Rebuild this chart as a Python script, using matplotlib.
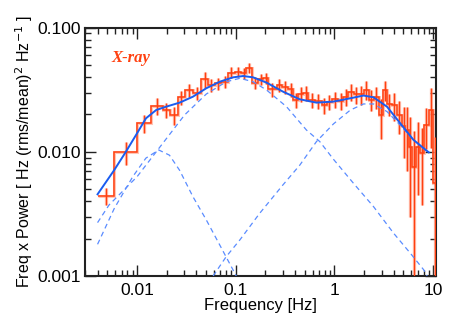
import numpy as np
import matplotlib
matplotlib.use("Agg")
import matplotlib.pyplot as plt
from matplotlib.ticker import FixedLocator, NullFormatter, LogLocator

# ---- data ----
bin_edges = [0.00398, 0.00588, 0.0100, 0.01388, 0.01824, 0.02133, 0.02592, 0.03030,
             0.03683, 0.04476, 0.05231, 0.06114, 0.07146, 0.08356, 0.09768, 0.1142,
             0.1284, 0.1466, 0.1687, 0.1897, 0.2132, 0.2592, 0.2913, 0.3404, 0.3828,
             0.4303, 0.4838, 0.5440, 0.6358, 0.7433, 0.8356, 0.9395, 1.098, 1.235,
             1.388, 1.561, 1.754, 1.972, 2.217, 2.493, 2.803, 3.101, 3.406, 3.829,
             4.305, 4.838, 5.232, 5.655, 6.115, 6.769, 7.318, 8.038, 9.036, 10.0, 10.98]
power = [0.00442, 0.0099, 0.0170, 0.0234, 0.0217, 0.0198, 0.0275, 0.0315, 0.0296,
         0.0384, 0.0345, 0.0356, 0.0367, 0.0435, 0.0443, 0.0429, 0.0476, 0.0361,
         0.0384, 0.0390, 0.0318, 0.0345, 0.0331, 0.0318, 0.0262, 0.0290, 0.0296,
         0.0262, 0.0258, 0.0238, 0.0254, 0.0265, 0.0258, 0.0278, 0.0305, 0.0290,
         0.0290, 0.0315, 0.0262, 0.0278, 0.0198, 0.0315, 0.0243, 0.0238, 0.0198,
         0.0160, 0.0150, 0.0110, 0.0076, 0.0110, 0.0097, 0.0165, 0.0217, 0.00565]
power_err = [0.0007, 0.0020, 0.0028, 0.0036, 0.0030, 0.0033, 0.0035, 0.0040, 0.0035,
             0.0055, 0.0040, 0.0040, 0.0040, 0.0045, 0.0040, 0.0040, 0.0045, 0.0040,
             0.0040, 0.0040, 0.0040, 0.0040, 0.0040, 0.0040, 0.0035, 0.0040, 0.0040,
             0.0035, 0.0035, 0.0035, 0.0035, 0.0040, 0.0040, 0.0045, 0.0050, 0.0045,
             0.0050, 0.0055, 0.0050, 0.0055, 0.0070, 0.0060, 0.0050, 0.0060, 0.0060,
             0.0070, 0.0080, 0.0080, 0.0070, 0.0065, 0.0060, 0.0060, 0.0110, 0.0075]

model_f = [0.00398, 0.00588, 0.0077, 0.0100, 0.0123, 0.0156, 0.0197, 0.0270, 0.0368,
           0.0503, 0.0688, 0.0940, 0.119, 0.150, 0.205, 0.302, 0.445, 0.658, 0.979,
           1.45, 1.97, 2.49, 3.41, 4.64, 6.31, 9.04]
model_total = [0.00455, 0.00714, 0.0100, 0.0141, 0.0186, 0.0217, 0.0231, 0.0249, 0.0278,
               0.0325, 0.0367, 0.0398, 0.0408, 0.0398, 0.0361, 0.0305, 0.0265, 0.0249,
               0.0254, 0.0270, 0.0284, 0.0275, 0.0231, 0.0170, 0.0125, 0.0099]

compA_f = [0.00398, 0.00588, 0.00904, 0.0123, 0.0166, 0.0213, 0.0270, 0.0368, 0.0503,
           0.0688, 0.1013]
compA = [0.0018, 0.0035, 0.0063, 0.0089, 0.01035, 0.0094, 0.0071, 0.00436, 0.00283,
         0.00178, 0.0010]

compB_f = [0.00398, 0.0052, 0.0100, 0.0303, 0.0503, 0.0804, 0.110, 0.150, 0.205, 0.327,
           0.52, 0.71, 0.979, 1.56, 2.49, 3.98, 5.9, 8.04, 8.7]
compB = [0.00269, 0.00373, 0.0063, 0.0198, 0.0292, 0.0367, 0.0391, 0.0367, 0.0315,
         0.0231, 0.0150, 0.0121, 0.0087, 0.00558, 0.00362, 0.00221, 0.00152, 0.00112,
         0.0010]

compC_f = [0.059, 0.080, 0.110, 0.175, 0.30, 0.445, 0.658, 0.979, 1.45, 1.97, 2.49,
           3.41, 4.64, 6.31, 9.04]
compC = [0.0010, 0.00143, 0.00195, 0.0032, 0.0054, 0.0078, 0.0121, 0.0168, 0.0217,
         0.0243, 0.0243, 0.0211, 0.0164, 0.0125, 0.0098]

x_ticks = [0.01, 0.1, 1, 10]
x_ticklabels = ["0.01", "0.1", "1", "10"]
y_ticks = [0.001, 0.01, 0.1]
y_ticklabels = ["0.001", "0.010", "0.100"]

# ---- figure ----
plt.rcParams['font.family'] = ['Liberation Sans', 'DejaVu Sans']
fig = plt.figure(figsize=(4.63, 3.31), dpi=100)
ax = fig.add_axes([0.1836, 0.1662, 0.7581, 0.7502])
ax.set_xscale('log')
ax.set_yscale('log')

edges = np.array(bin_edges)
p = np.array(power)
pe = np.array(power_err)
centers = np.sqrt(edges[:-1] * edges[1:])

data_col = '#ff4010'
light_col = '#ffa088'

# light halo layer
ax.stairs(p, edges, baseline=None, color=light_col, lw=2.2, alpha=0.6, zorder=2)
ax.errorbar(centers, p, yerr=pe, fmt='none', ecolor=light_col, elinewidth=2.4,
            alpha=0.6, zorder=2)
# main data layer
ax.stairs(p, edges, baseline=None, color=data_col, lw=1.1, zorder=3)
ax.errorbar(centers, p, yerr=pe, fmt='none', ecolor=data_col, elinewidth=1.0, zorder=3)

dash_col = '#5a8cff'
ax.plot(compA_f, compA, color=dash_col, lw=0.9, ls=(0, (4, 3)), zorder=4)
ax.plot(compB_f, compB, color=dash_col, lw=0.9, ls=(0, (4, 3)), zorder=4)
ax.plot(compC_f, compC, color=dash_col, lw=0.9, ls=(0, (4, 3)), zorder=4)
ax.plot(model_f, model_total, color='#1a5cf0', lw=1.4, zorder=5)

ax.set_xlim(0.00297, 10.7)
ax.set_ylim(0.001, 0.1)

ax.xaxis.set_major_locator(FixedLocator(x_ticks))
ax.set_xticklabels(x_ticklabels)
ax.yaxis.set_major_locator(FixedLocator(y_ticks))
ax.set_yticklabels(y_ticklabels)
ax.xaxis.set_minor_locator(LogLocator(base=10, subs=np.arange(2, 10), numticks=20))
ax.yaxis.set_minor_locator(LogLocator(base=10, subs=np.arange(2, 10), numticks=20))
ax.xaxis.set_minor_formatter(NullFormatter())
ax.yaxis.set_minor_formatter(NullFormatter())

ax.tick_params(which='both', direction='in', top=True, right=True, color='#222222',
               width=1.0)
ax.tick_params(which='major', length=8, labelsize=12.5, pad=5)
ax.tick_params(axis='y', which='major', pad=3)
ax.tick_params(which='minor', length=4)
for s in ax.spines.values():
    s.set_linewidth(1.5)
    s.set_color('#222222')

ax.set_xlabel('Frequency [Hz]', fontsize=12, labelpad=0)
ax.set_ylabel(r'Freq x Power [ Hz (rms/mean)$^2$ Hz$^{-1}$ ]', fontsize=11.5, labelpad=2)

ax.text(0.075, 0.91, 'X-ray', transform=ax.transAxes, color=data_col,
        fontsize=12, fontweight='bold', fontstyle='italic',
        family=['Liberation Serif', 'DejaVu Serif'], va='top', ha='left')

fig.savefig('out.png', dpi=100)
